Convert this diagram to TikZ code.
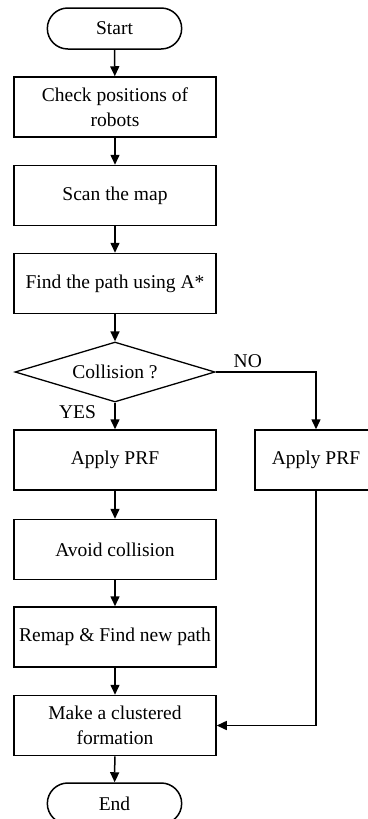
\documentclass[tikz,border=0pt]{standalone}
\usepackage{fontspec}
\setmainfont{Liberation Serif}
\usetikzlibrary{shapes.geometric, shapes.misc, arrows.meta, positioning}

\begin{document}
\begin{tikzpicture}[x=1pt, y=-1pt, font=\fontsize{19.5}{25}\selectfont]
        \tikzset{
          procbox/.style={draw, line width=1.5pt, minimum width=202pt, minimum height=60pt, align=center, inner sep=2pt},
          termbox/.style={draw, rounded rectangle, line width=1.5pt, minimum width=141pt, minimum height=41pt},
          decbox/.style={draw, diamond, aspect=3.3, line width=1.3pt, minimum width=200pt, minimum height=60pt, inner sep=0pt},
          flow/.style={-{Triangle[length=10pt, width=9pt]}, line width=1.5pt}
        }
        \useasboundingbox (0,0) rectangle (367,819);

        % Terminals
        \node[termbox] (start) at (114.5,28.5) {Start};
        \node[termbox] (end) at (114.5,803.5) {End};

        % Main column
        \node[procbox] (check) at (115,107) {Check positions of\\robots};
        \node[procbox] (scan) at (115,195.5) {Scan the map};
        \node[procbox] (find) at (115,283.5) {Find the path using A*};
        \node[decbox] (coll) at (115,372) {Collision ?};
        \node[procbox] (prf) at (115,460) {Apply PRF};
        \node[procbox] (avoid) at (115,549.5) {Avoid collision};
        \node[procbox] (remap) at (115,637) {Remap \& Find new path};
        \node[procbox] (form) at (115,725.5) {Make a clustered\\formation};

        % Side branch
        \node[procbox, minimum width=122pt] (prf2) at (316,460) {Apply PRF};

        % Arrows
        \draw[flow] (start) -- (check);
        \draw[flow] (check) -- (scan);
        \draw[flow] (scan) -- (find);
        \draw[flow] (find) -- (coll);
        \draw[flow] (coll) -- node[pos=0.36, left=15pt] (yes) {YES} (prf);
        \draw[flow] (prf) -- (avoid);
        \draw[flow] (avoid) -- (remap);
        \draw[flow] (remap) -- (form);
        \draw[flow] (form) -- (end);
        \draw[flow] (coll.east) -| node[pos=0.16, above] (no) {NO} (prf2);
        \draw[flow] (prf2.south) |- (form.east);
    \end{tikzpicture}
\end{document}
